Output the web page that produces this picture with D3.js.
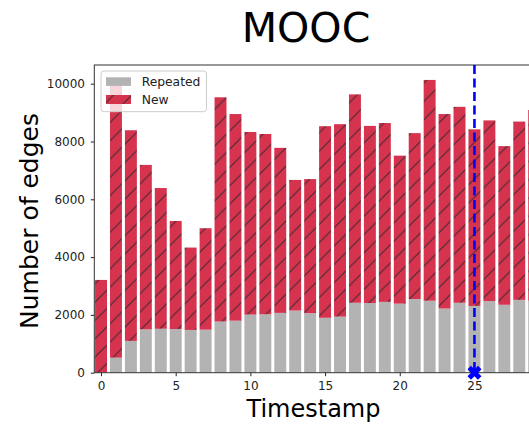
<!DOCTYPE html>
<html>
<head>
<meta charset="utf-8">
<script src="https://cdn.jsdelivr.net/npm/d3@7"></script>
<style>
  html, body { margin: 0; padding: 0; background: #fff; }
  svg { display: block; font-family: "DejaVu Sans", sans-serif; }
</style>
</head>
<body>
<div id="chart"></div>
<script>
// timestamps 0..29 (29 is cut off by the right edge)
var timestamps = d3.range(0, 30);
var totals = [3210, 10030, 8390, 7190, 6390, 5250, 4330, 5000, 9530, 8950,
              8330, 8260, 7780, 6670, 6700, 8530, 8600, 9630, 8540, 8640,
              7510, 8290, 10130, 8950, 9200, 8420, 8730, 7840, 8690, 9090];
var repeated = [0, 520, 1100, 1500, 1520, 1510, 1480, 1490, 1770, 1800,
                2010, 2020, 2070, 2150, 2060, 1900, 1940, 2420, 2410, 2450,
                2390, 2550, 2490, 2220, 2420, 2310, 2480, 2350, 2520, 2490];
var newEdges = totals.map(function(t, i){ return t - repeated[i]; });
var xTicks = [0, 5, 10, 15, 20, 25];
var yTicks = [0, 2000, 4000, 6000, 8000, 10000];
var markTimestamp = 25;

var W = 529, H = 425;
var margin = { left: 94.3, top: 65, right: -3.7, bottom: 52.3 };
var width = W - margin.left - margin.right;
var height = H - margin.top - margin.bottom;

var redColor = "#d6334f";
var greyColor = "#b3b3b3";

var svg = d3.select("#chart").append("svg")
    .attr("width", W)
    .attr("height", H);

var defs = svg.append("defs");
var hp = 18.3;
var pat = defs.append("pattern")
    .attr("id", "hatch")
    .attr("patternUnits", "userSpaceOnUse")
    .attr("width", hp)
    .attr("height", hp);
pat.append("rect").attr("width", hp).attr("height", hp).attr("fill", redColor);
pat.append("path")
    .attr("d", "M0," + hp + "L" + hp + ",0M" + (-hp/4) + "," + (hp/4) + "L" + (hp/4) + "," + (-hp/4) +
               "M" + (hp*3/4) + "," + (hp*5/4) + "L" + (hp*5/4) + "," + (hp*3/4))
    .attr("stroke", "#3b2a2e")
    .attr("stroke-width", 1);

defs.append("clipPath").attr("id", "plotClip")
    .append("rect").attr("width", width).attr("height", height);

var g = svg.append("g")
    .attr("transform", "translate(" + margin.left + "," + margin.top + ")");

// Scales
var x = d3.scaleLinear().domain([-0.45, 28.9]).range([0, width]);
var y = d3.scaleLinear().domain([0, 10647]).range([height, 0]);
var barW = x(0.8) - x(0);

var bars = g.append("g").attr("clip-path", "url(#plotClip)");

// Repeated (grey)
bars.selectAll(".rep")
    .data(timestamps)
    .enter().append("rect")
    .attr("class", "rep")
    .attr("x", function(d){ return x(d - 0.4); })
    .attr("width", barW)
    .attr("y", function(d, i){ return y(repeated[i]); })
    .attr("height", function(d, i){ return y(0) - y(repeated[i]); })
    .attr("fill", greyColor);

// New (red, hatched) stacked on top
bars.selectAll(".new")
    .data(timestamps)
    .enter().append("rect")
    .attr("class", "new")
    .attr("x", function(d){ return x(d - 0.4); })
    .attr("width", barW)
    .attr("y", function(d, i){ return y(repeated[i] + newEdges[i]); })
    .attr("height", function(d, i){ return y(repeated[i]) - y(repeated[i] + newEdges[i]); })
    .attr("fill", "url(#hatch)");

// Axes
var xAxis = g.append("g")
    .attr("transform", "translate(0," + height + ")")
    .call(d3.axisBottom(x).tickValues(xTicks).tickSize(3.5).tickPadding(5.5).tickSizeOuter(0));
var yAxis = g.append("g")
    .call(d3.axisLeft(y).tickValues(yTicks).tickSize(3.5).tickPadding(5.8).tickFormat(d3.format("d")).tickSizeOuter(0));

[xAxis, yAxis].forEach(function(a){
    a.select(".domain").remove();
    a.selectAll("text").attr("font-size", "12px").attr("font-family", "DejaVu Sans, sans-serif").attr("fill", "#222");
    a.selectAll("line").attr("stroke", "#222");
});

// Spines
g.append("rect")
    .attr("width", width)
    .attr("height", height)
    .attr("fill", "none")
    .attr("stroke", "#333")
    .attr("stroke-width", 1);

// Marker line
g.append("line")
    .attr("x1", x(markTimestamp)).attr("x2", x(markTimestamp))
    .attr("y1", 0).attr("y2", height)
    .attr("stroke", "#0000ff")
    .attr("stroke-width", 2.6)
    .attr("stroke-dasharray", "9,4.5");

var s = 14;
var xPts = [[-0.25,-0.5],[0,-0.25],[0.25,-0.5],[0.5,-0.25],[0.25,0],[0.5,0.25],
            [0.25,0.5],[0,0.25],[-0.25,0.5],[-0.5,0.25],[-0.25,0],[-0.5,-0.25]];
g.append("path")
    .attr("d", "M" + xPts.map(function(p){ return [p[0]*s, p[1]*s].join(","); }).join("L") + "Z")
    .attr("transform", "translate(" + x(markTimestamp) + "," + y(0) + ")")
    .attr("fill", "#0000ff");

// Legend
var leg = g.append("g").attr("transform", "translate(6.7,6)");
leg.append("rect")
    .attr("width", 105.5).attr("height", 40.7)
    .attr("rx", 3)
    .attr("fill", "#fff").attr("fill-opacity", 0.8)
    .attr("stroke", "#ccc").attr("stroke-width", 1);
leg.append("rect").attr("x", 5).attr("y", 6.3).attr("width", 25).attr("height", 8.6).attr("fill", greyColor);
leg.append("rect").attr("x", 5).attr("y", 24).attr("width", 25).attr("height", 9).attr("fill", "url(#hatch)");
leg.append("text").attr("x", 40.7).attr("y", 10.6).attr("dy", "0.35em")
    .attr("font-size", "12.3px").attr("fill", "#222").text("Repeated");
leg.append("text").attr("x", 40.7).attr("y", 28.5).attr("dy", "0.35em")
    .attr("font-size", "12.3px").attr("fill", "#222").text("New");

// Labels
svg.append("text")
    .attr("x", 306).attr("y", 42)
    .attr("text-anchor", "middle")
    .attr("font-size", "41px")
    .attr("fill", "#000")
    .text("MOOC");

svg.append("text")
    .attr("x", 313.5).attr("y", 417.3)
    .attr("text-anchor", "middle")
    .attr("font-size", "24px")
    .attr("fill", "#000")
    .text("Timestamp");

svg.append("text")
    .attr("transform", "translate(38,221) rotate(-90)")
    .attr("text-anchor", "middle")
    .attr("font-size", "25px")
    .attr("fill", "#000")
    .text("Number of edges");
</script>
</body>
</html>
